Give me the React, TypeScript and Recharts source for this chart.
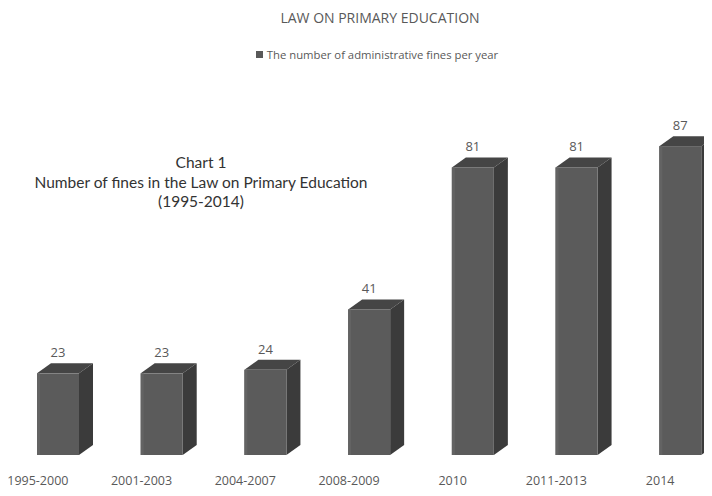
import { BarChart, Bar, XAxis, YAxis, Legend, LabelList } from "recharts";

const periods = ["1995-2000", "2001-2003", "2004-2007", "2008-2009", "2010", "2011-2013", "2014"];
const fines = [23, 23, 24, 41, 81, 81, 87];

const data = periods.map((p, i) => ({ period: p, fines: fines[i] }));

const DX = 14;
const DY = 10;

// 3D box: front face, top and right side
const Box = (props: any) => {
  const { x, y, width, height } = props;
  if (height <= 0) return null;
  const r = x + width;
  const b = y + height;
  return (
    <g>
      <path d={`M${x},${y} L${x + DX},${y - DY} L${r + DX},${y - DY} L${r},${y} Z`} fill="#454545" />
      <path d={`M${r},${y} L${r + DX},${y - DY} L${r + DX},${b - DY} L${r},${b} Z`} fill="#3b3b3b" />
      <rect x={x} y={y} width={width} height={height} fill="#5b5b5b" />
      <rect x={x} y={y} width={3} height={height} fill="#636363" />
    </g>
  );
};

const ValueLabel = (props: any) => {
  const { x, y, width, value } = props;
  return (
    <text
      x={x + width / 2}
      y={y - DY - 6}
      textAnchor="middle"
      fill="#595959"
      fontSize={13}
      fontFamily="'Open Sans', sans-serif"
    >
      {value}
    </text>
  );
};

const PeriodTick = (props: any) => {
  const { x, y, payload } = props;
  return (
    <text
      x={x - 20}
      y={y + 22}
      textAnchor="middle"
      fill="#595959"
      fontSize={12.5}
      fontFamily="'Open Sans', sans-serif"
    >
      {payload.value}
    </text>
  );
};

const LegendContent = () => (
  <div
    style={{
      display: "flex",
      justifyContent: "center",
      alignItems: "center",
      fontFamily: "'Open Sans', sans-serif",
      fontSize: 11.3,
      color: "#595959",
      height: 16,
    }}
  >
    <span style={{ width: 7, height: 7, background: "#595959", marginRight: 4, display: "inline-block" }} />
    The number of administrative fines per year
  </div>
);

export default function App() {
  return (
    <div style={{ position: "relative", width: 712, height: 496, margin: -8, background: "#fff" }}>
      <div
        style={{
          position: "absolute",
          top: 8,
          left: 0,
          width: 760,
          textAlign: "center",
          fontFamily: "'Open Sans', sans-serif",
          fontSize: 14,
          color: "#595959",
        }}
      >
        LAW ON PRIMARY EDUCATION
      </div>

      <div
        style={{
          position: "absolute",
          top: 153,
          left: 20,
          width: 362,
          textAlign: "center",
          fontFamily: "Lato, sans-serif",
          fontSize: 15.5,
          lineHeight: "19.5px",
          color: "#333",
        }}
      >
        Chart 1
        <br />
        Number of fines in the Law on Primary Education
        <br />
        (1995-2014)
      </div>

      <BarChart
        width={712}
        height={496}
        data={data}
        margin={{ top: 100, right: 0, bottom: 11, left: 0 }}
        barSize={42}
      >
        <XAxis
          dataKey="period"
          height={30}
          axisLine={false}
          tickLine={false}
          tick={<PeriodTick />}
          padding={{ left: 6, right: -20 }}
          interval={0}
        />
        <YAxis hide domain={[0, 100]} />
        <Legend
          verticalAlign="top"
          content={<LegendContent />}
          wrapperStyle={{ top: 46, left: 12, width: 730, height: 0, overflow: "visible" }}
        />
        <Bar dataKey="fines" shape={<Box />} isAnimationActive={false}>
          <LabelList dataKey="fines" content={<ValueLabel />} />
        </Bar>
      </BarChart>
    </div>
  );
}
